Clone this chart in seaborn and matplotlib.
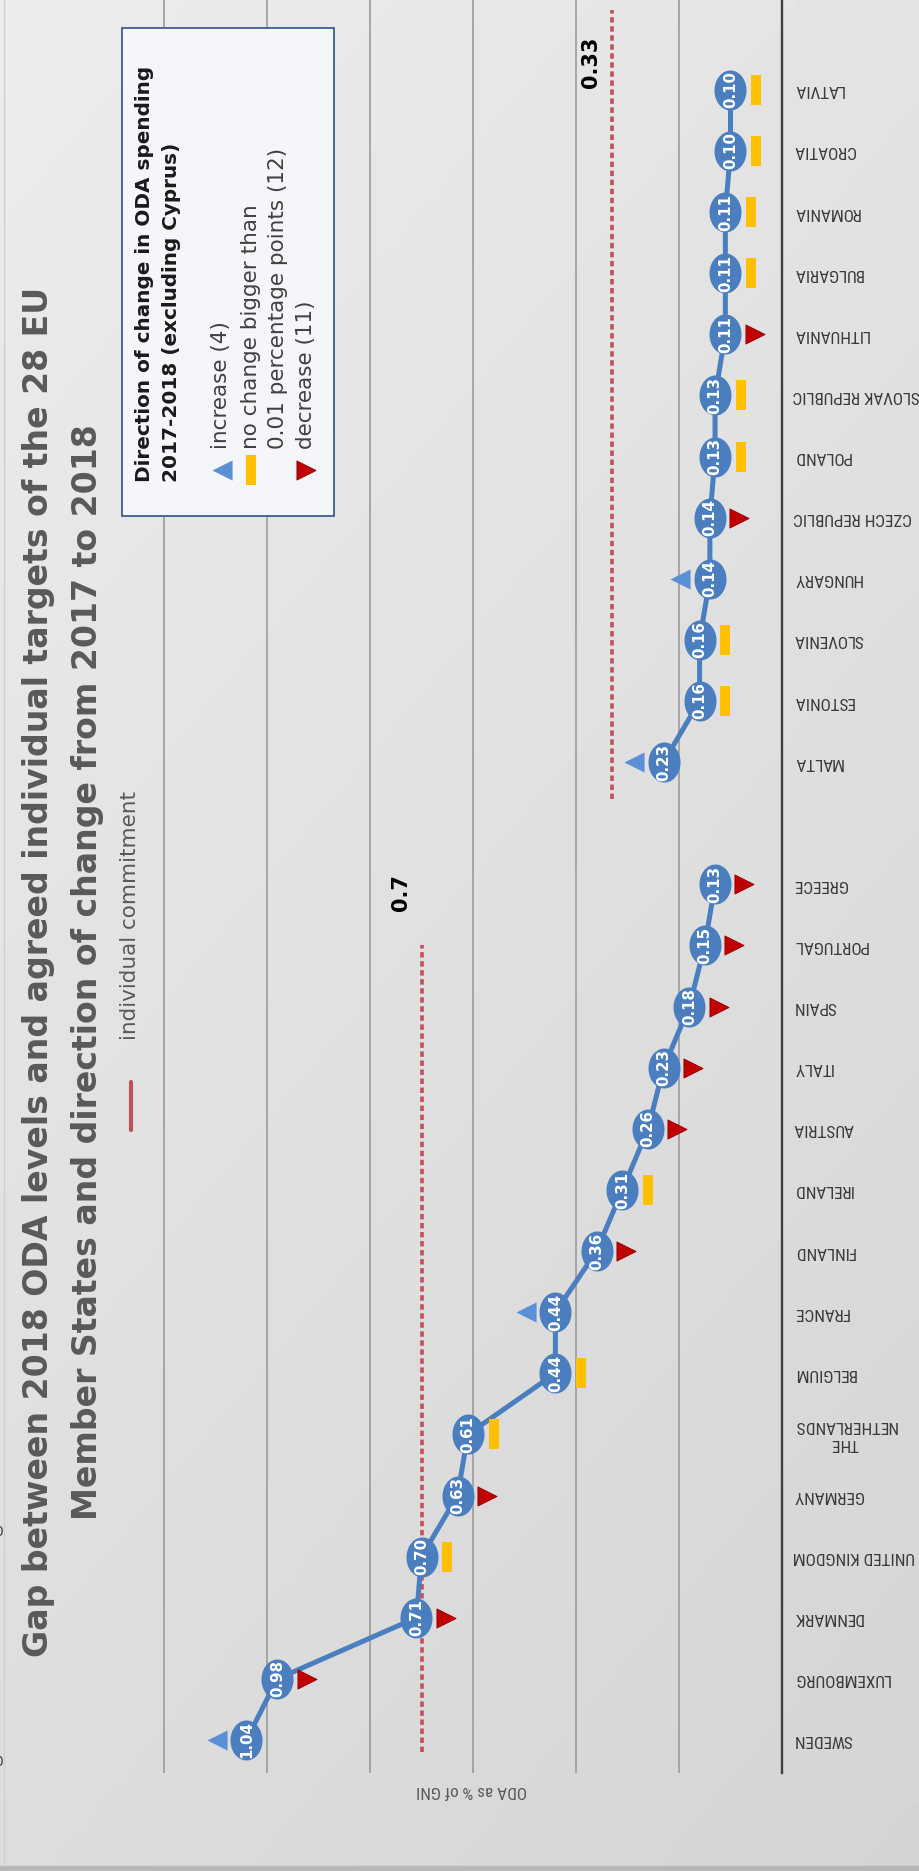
import numpy as np
import pandas as pd
import matplotlib
matplotlib.use("Agg")
import matplotlib.pyplot as plt
import seaborn as sns
from matplotlib import font_manager as fm
from matplotlib.patches import Rectangle

# ---------------- data ----------------
countries = ["SWEDEN", "LUXEMBOURG", "DENMARK", "UNITED KINGDOM", "GERMANY",
             "THE\nNETHERLANDS", "BELGIUM", "FRANCE", "FINLAND", "IRELAND",
             "AUSTRIA", "ITALY", "SPAIN", "PORTUGAL", "GREECE", "",
             "MALTA", "ESTONIA", "SLOVENIA", "HUNGARY", "CZECH REPUBLIC",
             "POLAND", "SLOVAK REPUBLIC", "LITHUANIA", "BULGARIA", "ROMANIA",
             "CROATIA", "LATVIA"]
oda_2018 = [1.04, 0.98, 0.71, 0.70, 0.63, 0.61, 0.44, 0.44, 0.36, 0.31,
            0.26, 0.23, 0.18, 0.15, 0.13, np.nan,
            0.23, 0.16, 0.16, 0.14, 0.14, 0.13, 0.13, 0.11, 0.11, 0.11,
            0.10, 0.10]
direction = ["increase", "decrease", "decrease", "nochange", "decrease",
             "nochange", "nochange", "increase", "decrease", "nochange",
             "decrease", "decrease", "decrease", "decrease", "decrease", None,
             "increase", "nochange", "nochange", "increase", "decrease",
             "nochange", "nochange", "decrease", "nochange", "nochange",
             "nochange", "nochange"]
group = ["EU15"] * 15 + [None] + ["EU13"] * 12
commit_values = [0.7, 0.33]
commit_groups = ["EU15", "EU13"]
commit_labels = ["0.7", "0.33"]

title = ("Gap between 2018 ODA levels and agreed individual targets of the 28 EU\n"
         "Member States and direction of change from 2017 to 2018")
legend_title = "Direction of change in ODA spending\n2017-2018 (excluding Cyprus)"
legend_entries = ["increase (4)",
                  "no change bigger than\n0.01 percentage points (12)",
                  "decrease (11)"]

# ---------------- style ----------------
sns.set_theme(style="white")
names = {f.name for f in fm.fontManager.ttflist}
narrow = next((n for n in ["Liberation Sans Narrow", "DejaVu Sans Condensed",
                           "Roboto Condensed"] if n in names), "Liberation Sans")
plt.rcParams["font.family"] = ["DejaVu Sans"]

BLUE = "#4A7EBE"
TRI_BLUE = "#5B8FD6"
YELLOW = "#FFC000"
RED = "#C00000"
COMMIT = "#C0505A"
W, H = 920, 1871

df = pd.DataFrame({"country": countries, "pos": np.arange(len(countries)),
                   "oda": oda_2018, "direction": direction, "group": group})
df = df.dropna(subset=["oda"])
offsets = {"increase": 0.058, "nochange": -0.05, "decrease": -0.057}
df["mx"] = df["oda"] + df["direction"].map(offsets)

fig = plt.figure(figsize=(W / 100, H / 100), dpi=100)

# background gradient
bg = fig.add_axes([0, 0, 1, 1], zorder=0)
yy, xx = np.mgrid[0:1:200j, 0:1:100j]
shade = 0.925 - 0.06 * yy - 0.035 * xx
bg.imshow(shade, cmap="gray", vmin=0, vmax=1, aspect="auto",
          extent=[0, W, H, 0], interpolation="bilinear")
bg.add_patch(Rectangle((0, H - 5), W, 5, color="#b8b8b8"))
bg.plot([4, 4], [0, H - 5], color="#cfcfcf", lw=1)
bg.set_xlim(0, W)
bg.set_ylim(H, 0)
bg.axis("off")

# main plot axes
left, right, top, bottom = 61, 782, 0, 1773
ax = fig.add_axes([left / W, 1 - bottom / H, (right - left) / W, (bottom - top) / H],
                  zorder=1)
ax.set_facecolor("none")
ax.set_xlim(1.4, 0)
ax.set_ylim(-0.54, 28.47)

for g in ["EU15", "EU13"]:
    sns.lineplot(data=df[df["group"] == g], x="oda", y="pos", sort=False,
                 estimator=None, color=BLUE, lw=3.6, ax=ax, zorder=2)

theta = np.linspace(0, 2 * np.pi, 72)
ellipse = list(zip(0.8 * np.cos(theta), np.sin(theta)))
sns.scatterplot(data=df, x="oda", y="pos", marker=ellipse, s=830, color=BLUE,
                linewidth=0, ax=ax, zorder=3)
for _, r in df.iterrows():
    ax.text(r["oda"], r["pos"], f"{r['oda']:.2f}", rotation=90, ha="center",
            va="center", color="white", fontsize=10.8, fontweight="bold",
            zorder=4)

rect = [(-0.18, -0.5), (0.18, -0.5), (0.18, 0.5), (-0.18, 0.5)]
sns.scatterplot(data=df[df["direction"] == "increase"], x="mx", y="pos",
                marker="<", s=210, color=TRI_BLUE, linewidth=0, ax=ax, zorder=3)
sns.scatterplot(data=df[df["direction"] == "nochange"], x="mx", y="pos",
                marker=rect, s=467, color=YELLOW, linewidth=0, ax=ax, zorder=3)
sns.scatterplot(data=df[df["direction"] == "decrease"], x="mx", y="pos",
                marker=">", s=190, color=RED, edgecolor="#8f0000", linewidth=0.6,
                ax=ax, zorder=3)

# commitment lines
spans = {"EU15": (-0.2, 13.0), "EU13": (15.4, 28.3)}
label_pos = {"EU15": 13.86, "EU13": 27.45}
for val, g, lab in zip(commit_values, commit_groups, commit_labels):
    y0, y1 = spans[g]
    seg = pd.DataFrame({"x": [val, val], "y": [y0, y1]})
    sns.lineplot(data=seg, x="x", y="y", sort=False, estimator=None, color=COMMIT,
                 lw=2.6, dashes=False, ax=ax, zorder=1.5,
                 linestyle=(0, (1.5, 1.0)))
    ax.text(val + 0.04, label_pos[g], lab, rotation=90, ha="center", va="center",
            fontsize=15, fontweight="bold", color="black")

ax.set_xticks([0.2, 0.4, 0.6, 0.8, 1.0, 1.2])
ax.set_xticklabels([])
ax.grid(axis="x", color="#9b9b9b", lw=1.2)
ax.grid(axis="y", visible=False)
ax.tick_params(axis="x", length=0)
for s in ["left", "top", "bottom"]:
    ax.spines[s].set_visible(False)
ax.spines["right"].set_color("#3f3f3f")
ax.spines["right"].set_linewidth(1.7)

ax.yaxis.tick_right()
ax.set_yticks(np.arange(len(countries)))
ax.set_yticklabels(countries)
ax.tick_params(axis="y", length=0, pad=8, labelsize=12.3, labelcolor="#3a3a3a")
for t in ax.get_yticklabels():
    t.set_rotation(180)
    t.set_ha("left")
    t.set_va("center")
    t.set_multialignment("center")
    t.set_family(narrow)
ax.set_ylabel("")
ax.set_xlabel("ODA as % of GNI", rotation=180, fontsize=12.3, color="#595959",
              family=narrow)
ax.xaxis.set_label_coords((472 - left) / (right - left), -18 / (bottom - top))
ax.xaxis.label.set_va("center")

# overlay for title and legends
ov = fig.add_axes([0, 0, 1, 1], zorder=2)
ov.set_facecolor("none")
ov.set_xlim(0, W)
ov.set_ylim(H, 0)
ov.axis("off")

ov.text(63, 972, title, rotation=90, ha="center", va="center",
        multialignment="center", fontsize=23.9, fontweight="bold",
        color="#595959", linespacing=1.65)

# clipped glyph fragments at the left edge of the source image
for yfrag in [1532, 1762]:
    ov.text(3, yfrag, "0", ha="right", va="center", fontsize=10, color="#404040")

ov.plot([131, 131], [1082, 1130], color=COMMIT, lw=3)
ov.text(130, 1040, "individual commitment", rotation=90, ha="center",
        va="bottom", fontsize=15.5, color="#595959")

ov.add_patch(Rectangle((122, 28), 212, 488, facecolor="#f4f6f9",
                       edgecolor="#3b5f8f", lw=1.3, zorder=2))
ov.text(158, 482, legend_title, rotation=90, ha="center", va="bottom",
        multialignment="left", fontsize=14.4, fontweight="bold", color="#1a1a1a",
        linespacing=1.5, zorder=3)
ov.scatter([222], [470], marker="<", s=210, color=TRI_BLUE, linewidth=0, zorder=3)
ov.scatter([251], [470], marker=rect, s=467, color=YELLOW, linewidth=0, zorder=3)
ov.scatter([306], [470], marker=">", s=190, color=RED, edgecolor="#8f0000",
           linewidth=0.6, zorder=3)
for xc, txt in zip([221, 264.5, 306], legend_entries):
    ov.text(xc, 449, txt, rotation=90, ha="center", va="bottom",
            multialignment="left", fontsize=15.5, color="#404040",
            linespacing=1.38, zorder=3)

fig.savefig("out.png", dpi=100)
